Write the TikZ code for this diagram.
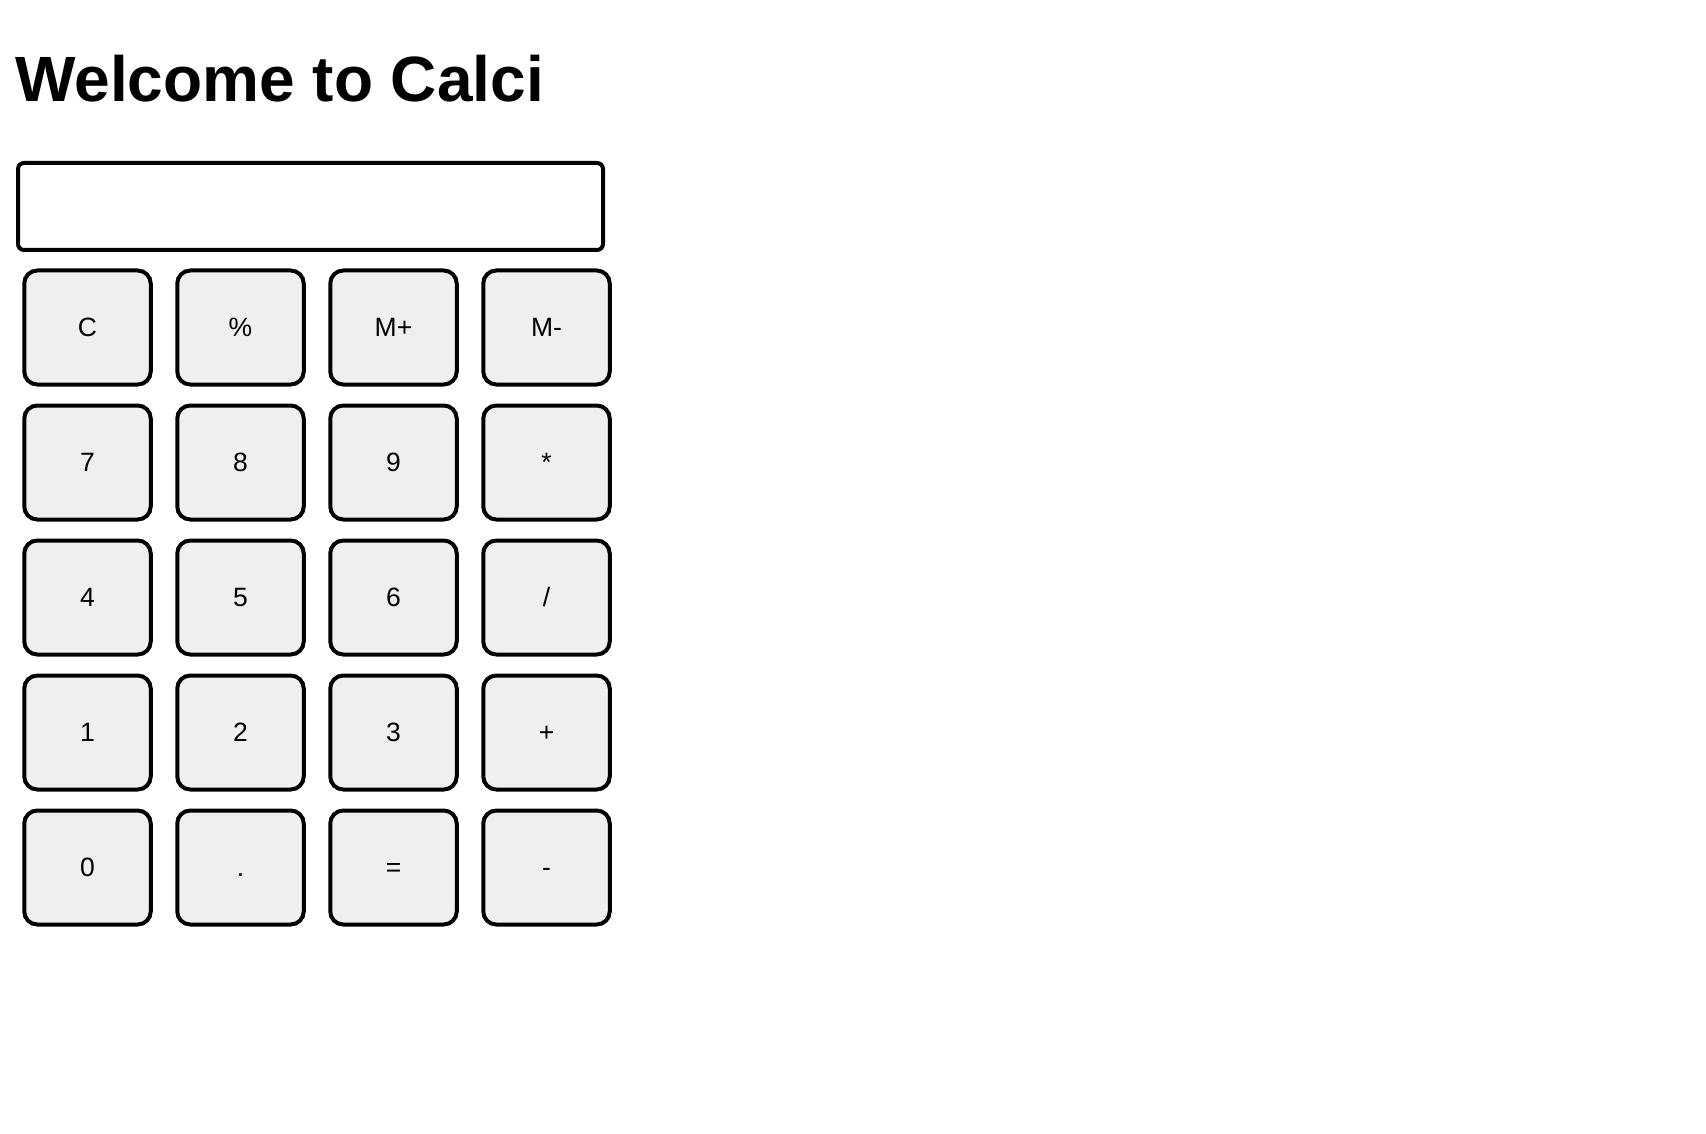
\documentclass[tikz,border=0pt]{standalone}
\usepackage{fontspec}
\setmainfont{Liberation Sans}
\begin{document}
\begin{tikzpicture}[x=1pt,y=-1pt,
  keybox/.style={draw=black, line width=4pt, fill=keyfill, rounded corners=13pt,
    minimum width=126.5pt, minimum height=114pt, inner sep=0pt,
    font=\fontsize{26.5}{30}\selectfont, text height=18.6pt, text depth=0pt},
  displaybox/.style={draw=black, line width=4pt, fill=white, rounded corners=6pt,
    minimum width=585pt, minimum height=87pt, inner sep=0pt},
  titletext/.style={font=\fontsize{64}{72}\selectfont\bfseries, inner sep=0pt, anchor=base west}]
\definecolor{keyfill}{HTML}{EFEFEF}
\useasboundingbox[fill=white] (0,0) rectangle (1706,1134);
\node[titletext] (title) at (15,102) {Welcome to Calci};
\node[displaybox] (display) at (310.5,206.5) {};
\foreach \lab [count=\k from 0] in {C,\%,M+,M-,7,8,9,*,4,5,6,/,1,2,3,+,0,.,=,-}{
  \pgfmathtruncatemacro{\col}{mod(\k,4)}
  \pgfmathtruncatemacro{\row}{div(\k,4)}
  \node[keybox] (key-\row-\col) at ({87.5+153*\col},{327.5+135*\row}) {\lab};
}
\end{tikzpicture}
\end{document}
